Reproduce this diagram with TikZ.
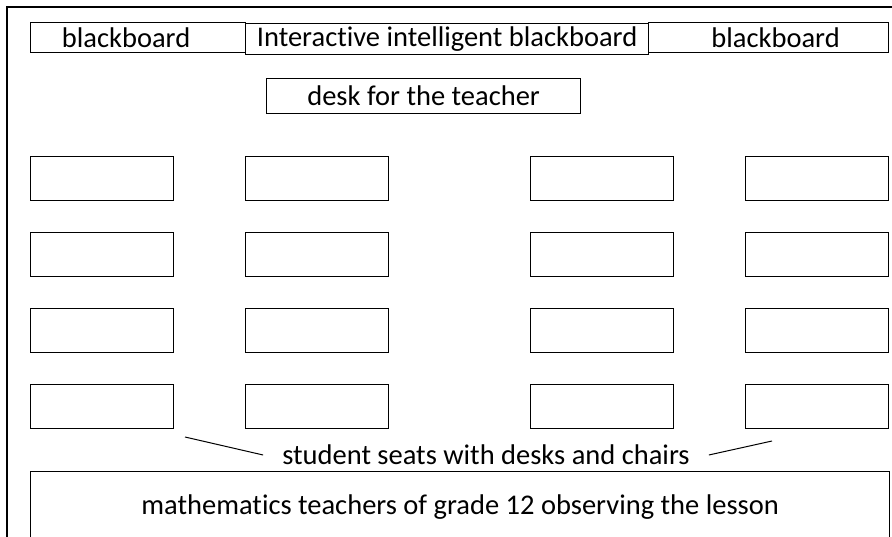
\documentclass[tikz,border=0pt]{standalone}
\usepackage{fontspec}
\setmainfont[Ligatures=NoCommon]{Carlito}
\usepackage{tikz}
\usetikzlibrary{positioning}

\begin{document}
\begin{tikzpicture}[
  x=1pt,y=-1pt,
  board/.style={draw, line width=1.2pt, anchor=north west, inner sep=0pt, font=\fontsize{28.5}{30}\selectfont},
  seat/.style={draw, line width=1.2pt, anchor=north west, minimum width=143pt, minimum height=44pt, inner sep=0pt},
  lbl/.style={inner xsep=19pt, inner ysep=2pt, font=\fontsize{28.5}{30}\selectfont}
]
\useasboundingbox (0,0) rectangle (892,537);
% classroom wall
\draw[line width=1.8pt] (7,560) |- (910,7);
% boards at the front
\node[board, minimum width=215pt, minimum height=30pt] (bbl) at (30,22) {blackboard\hspace*{24pt}};
\node[board, minimum width=403pt, minimum height=31pt] (ibb) at (245,23) {Interactive intelligent blackboard};
\node[board, minimum width=240pt, minimum height=30pt] (bbr) at (648,22) {\hspace*{14pt}blackboard};
\node[board, minimum width=314pt, minimum height=35pt] (desk) at (266,78) {desk for the teacher};
% student seats, four columns by four rows
\foreach \c/\x in {1/30,2/245,3/530,4/745}
  \foreach \r/\y in {1/156,2/232,3/308,4/384}
    \node[seat] (seat-\c-\r) at (\x,\y) {};
\node[lbl] (seats) at (486,455) {student seats with desks and chairs};
\coordinate (lp) at (185,437);
\coordinate (rp) at (772,441);
\draw[line width=1pt] (seats.west) -- (lp); \draw[line width=1pt] (seats.east) -- (rp);
\node[board, minimum width=859pt, minimum height=70pt] (obs) at (30,471) {mathematics teachers of grade 12 observing the lesson};
\end{tikzpicture}
\end{document}
